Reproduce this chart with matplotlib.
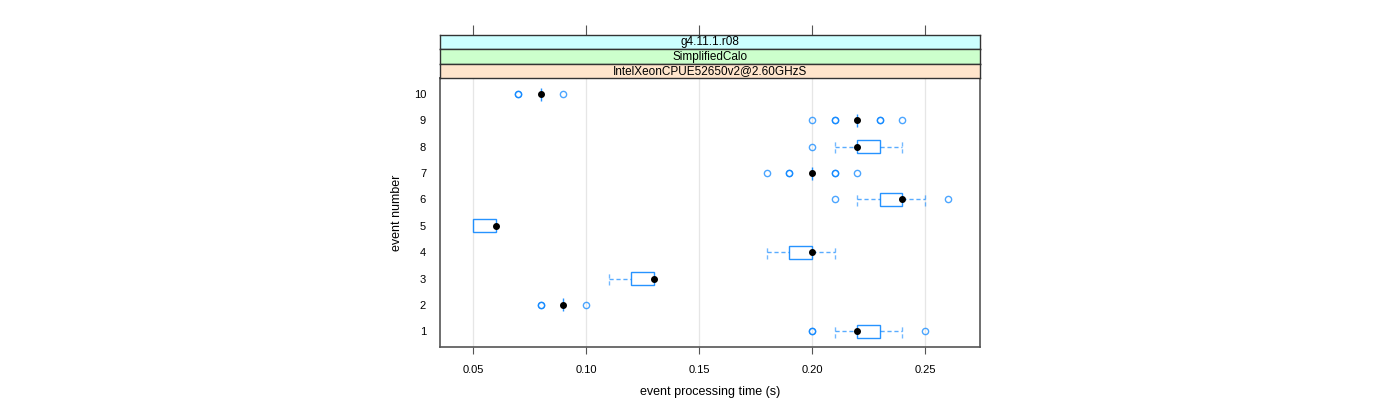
import matplotlib
matplotlib.use('Agg')
import matplotlib.pyplot as plt
import numpy as np

plt.rcParams['font.family'] = ['Liberation Sans', 'DejaVu Sans']

# box statistics per event
events = [1, 2, 3, 4, 5, 6, 7, 8, 9, 10]
whis_lo = [0.21, 0.09, 0.11, 0.18, 0.05, 0.22, 0.20, 0.21, 0.22, 0.08]
q1 = [0.22, 0.09, 0.12, 0.19, 0.05, 0.23, 0.20, 0.22, 0.22, 0.08]
med = [0.22, 0.09, 0.13, 0.20, 0.06, 0.24, 0.20, 0.22, 0.22, 0.08]
q3 = [0.23, 0.09, 0.13, 0.20, 0.06, 0.24, 0.20, 0.23, 0.22, 0.08]
whis_hi = [0.24, 0.09, 0.13, 0.21, 0.06, 0.25, 0.20, 0.24, 0.22, 0.08]
outliers = [
    [0.20, 0.20, 0.25],
    [0.08, 0.08, 0.10],
    [],
    [],
    [],
    [0.21, 0.26],
    [0.18, 0.19, 0.19, 0.21, 0.21, 0.22],
    [0.20],
    [0.20, 0.21, 0.21, 0.23, 0.23, 0.24],
    [0.07, 0.07, 0.09],
]
strips = ['g4.11.1.r08', 'SimplifiedCalo', 'IntelXeonCPUE52650v2@2.60GHzS']
strip_colors = ['#CCFFFF', '#CCFFCC', '#FFE5CC']
xticks = [0.05, 0.10, 0.15, 0.20, 0.25]

blue = '#0080ff'
frame = '#555555'

fig = plt.figure(figsize=(14, 4), dpi=100)
ax = fig.add_axes([440/1400, 1-347/400, 540/1400, (347-78.3)/400])

for x in xticks:
    ax.axvline(x, color='#e6e6e6', lw=0.9, zorder=0)

h = 0.25
dash = (0, (3, 2))
for i, y in enumerate(events):
    # whiskers
    ax.plot([whis_lo[i], q1[i]], [y, y], color=blue, lw=1, ls=dash, alpha=0.65)
    ax.plot([q3[i], whis_hi[i]], [y, y], color=blue, lw=1, ls=dash, alpha=0.65)
    if whis_lo[i] < q1[i]:
        ax.plot([whis_lo[i], whis_lo[i]], [y-h, y+h], color=blue, lw=1, ls=dash, alpha=0.55)
    if whis_hi[i] > q3[i]:
        ax.plot([whis_hi[i], whis_hi[i]], [y-h, y+h], color=blue, lw=1, ls=dash, alpha=0.55)
    # box
    ax.add_patch(plt.Rectangle((q1[i], y-h), q3[i]-q1[i], 2*h, fill=False,
                               ec=blue, lw=1, alpha=0.85, zorder=3))
    # outliers
    if outliers[i]:
        ax.plot(outliers[i], [y]*len(outliers[i]), 'o', mfc='none', mec=blue,
                ms=4.5, mew=1, alpha=0.7, zorder=3)
    ax.plot(med[i], y, 'o', color='black', ms=4, zorder=4)

ax.set_xlim(0.0354, 0.2743)
ax.set_ylim(0.4, 10.6)
ax.set_yticks(events)
ax.set_yticklabels([str(e) for e in events], fontsize=8)
ax.tick_params(axis='y', length=0, pad=10)
ax.set_xticks(xticks)
ax.set_xticklabels(['%.2f' % x for x in xticks], fontsize=8)
ax.tick_params(axis='x', length=5, color=frame, pad=8)
for s in ax.spines.values():
    s.set_color(frame)
    s.set_linewidth(1.2)
ax.set_xlabel('event processing time (s)', fontsize=9, labelpad=8)
ax.set_ylabel('event number', fontsize=9, labelpad=8)

# strips
sh = (78.3 - 35) / 3
for k, (txt, col) in enumerate(zip(strips, strip_colors)):
    top = 35 + k * sh
    sax = fig.add_axes([440/1400, 1-(top+sh)/400, 540/1400, sh/400], sharex=ax)
    sax.set_facecolor(col)
    sax.set_yticks([])
    sax.tick_params(axis='x', labelbottom=False, bottom=False,
                    top=(k == 0), length=7, color=frame, direction='out')
    for s in sax.spines.values():
        s.set_color('#333333')
        s.set_linewidth(1)
    sax.text(0.5, 0.5, txt, transform=sax.transAxes, ha='center', va='center', fontsize=8.5)

fig.savefig('out.png', dpi=100)
